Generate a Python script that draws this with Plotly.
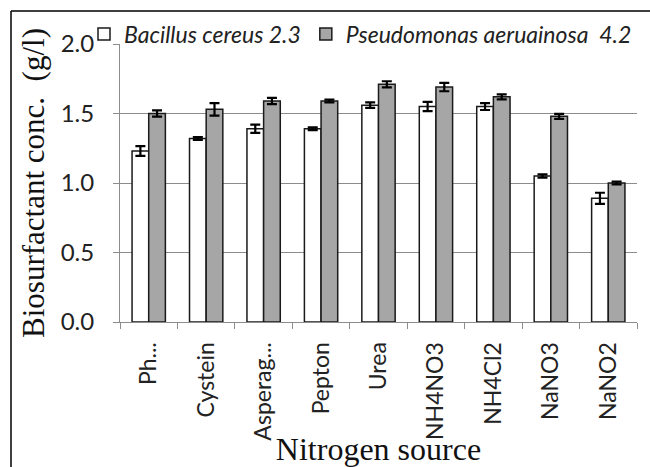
import plotly.graph_objects as go

categories = ["Ph...", "Cystein", "Asperag...", "Pepton", "Urea", "NH4NO3", "NH4Cl2", "NaNO3", "NaNO2"]
bacillus = [1.23, 1.32, 1.39, 1.39, 1.56, 1.55, 1.55, 1.05, 0.89]
bacillus_err = [0.035, 0.01, 0.03, 0.01, 0.02, 0.033, 0.025, 0.012, 0.04]
pseudomonas = [1.50, 1.53, 1.59, 1.59, 1.71, 1.69, 1.62, 1.48, 1.00]
pseudomonas_err = [0.022, 0.045, 0.022, 0.01, 0.022, 0.03, 0.018, 0.018, 0.01]
y_ticks = [0.0, 0.5, 1.0, 1.5, 2.0]
y_ticktext = ["0.0", "0.5", "1.0", "1.5", "2.0"]

W, H = 650, 467
L, R, T, B = 120, 13, 44, 145

fig = go.Figure()
fig.add_trace(go.Bar(
    x=categories, y=bacillus, name="Bacillus cereus 2.3",
    marker=dict(color="white", line=dict(color="#1a1a1a", width=1.5)),
    error_y=dict(type="data", array=bacillus_err, color="black", thickness=2.2, width=5),
))
fig.add_trace(go.Bar(
    x=categories, y=pseudomonas, name="Pseudomonas aeruainosa  4.2",
    marker=dict(color="#a6a6a6", line=dict(color="#1a1a1a", width=1.5)),
    error_y=dict(type="data", array=pseudomonas_err, color="black", thickness=2.2, width=5),
))

pw = W - L - R
ph = H - T - B
def px_x(x):
    return (x - L) / pw
def px_y(y):
    return (H - B - y) / ph

fig.update_layout(
    width=W, height=H,
    margin=dict(l=L, r=R, t=T, b=B, autoexpand=False),
    paper_bgcolor="white", plot_bgcolor="white",
    barmode="group", bargap=0.42, bargroupgap=0.0,
    font=dict(family="Lato, sans-serif", color="#222"),
    showlegend=True,
    legend=dict(
        orientation="h", x=px_x(84), y=px_y(34), xanchor="left", yanchor="middle",
        font=dict(family="Lato, sans-serif", size=23, style="italic", color="#222"),
        bgcolor="rgba(0,0,0,0)", itemwidth=30, tracegroupgap=0,
    ),
    xaxis=dict(
        type="category", tickson="boundaries", ticks="outside", ticklen=6,
        tickcolor="#8c8c8c", showline=True, linecolor="#8c8c8c", linewidth=1,
        tickangle=-90, tickfont=dict(family="Lato, sans-serif", size=23, color="#222"),
        ticklabelstandoff=10,
        showgrid=False,
        title=dict(text="Nitrogen source", standoff=12,
                   font=dict(family="Liberation Serif, Times New Roman, serif", size=32, color="#111")),
    ),
    yaxis=dict(
        range=[0, 2.0], tickvals=y_ticks, ticktext=y_ticktext,
        ticks="outside", ticklen=6, tickcolor="#8c8c8c",
        showline=True, linecolor="#8c8c8c", linewidth=1,
        showgrid=True, gridcolor="#8c8c8c", gridwidth=1, zeroline=False,
        tickfont=dict(family="Lato, sans-serif", size=24, color="#222"),
        ticklabelstandoff=14,
        title=dict(text="Biosurfactant conc.  (g/l)", standoff=6,
                   font=dict(family="Liberation Serif, Times New Roman, serif", size=31, color="#111")),
    ),
    shapes=[
        dict(type="line", xref="paper", yref="paper", x0=px_x(11), x1=px_x(650), y0=px_y(11), y1=px_y(11),
             line=dict(color="black", width=1.5)),
        dict(type="line", xref="paper", yref="paper", x0=px_x(11), x1=px_x(11), y0=px_y(11), y1=px_y(467),
             line=dict(color="black", width=1.5)),
    ],
)

fig.write_html("out.html")
